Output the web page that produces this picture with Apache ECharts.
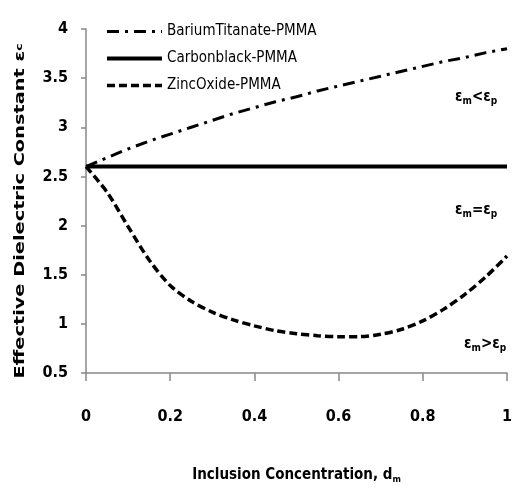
<!DOCTYPE html>
<html><head><meta charset="utf-8">
<script src="https://cdn.jsdelivr.net/npm/echarts@6/dist/echarts.min.js"></script>
<style>html,body{margin:0;padding:0;background:#fff}#c{width:528px;height:489px}</style>
</head><body><div id="c"></div>
<script>
const xValues = [0,0.05,0.1,0.15,0.2,0.25,0.3,0.35,0.4,0.45,0.5,0.55,0.6,0.65,0.7,0.75,0.8,0.85,0.9,0.95,1];
const bariumTitanate = [2.6,2.69,2.78,2.86,2.93,3.0,3.07,3.14,3.2,3.26,3.31,3.37,3.42,3.47,3.52,3.57,3.62,3.67,3.71,3.76,3.8];
const carbonBlack = [2.6,2.6,2.6,2.6,2.6,2.6,2.6,2.6,2.6,2.6,2.6,2.6,2.6,2.6,2.6,2.6,2.6,2.6,2.6,2.6,2.6];
const zincOxide = [2.6,2.34,1.99,1.65,1.39,1.23,1.12,1.04,0.98,0.93,0.9,0.88,0.87,0.87,0.895,0.945,1.03,1.15,1.3,1.48,1.69];
const seriesNames = ['BariumTitanate-PMMA','Carbonblack-PMMA','ZincOxide-PMMA'];

const narrow = "'Liberation Sans Narrow','DejaVu Sans Condensed',sans-serif";
const pair = (xs, ys) => xs.map((x,i)=>[x, ys[i]]);
const chart = echarts.init(document.getElementById('c'));
const epsRich = {
  b:{fontFamily:narrow,fontSize:15,fontWeight:'bold',color:'#000'},
  s:{fontFamily:narrow,fontSize:10,fontWeight:'bold',color:'#000',verticalAlign:'bottom',padding:[8,0,0,0]}
};
const lineStyles = [
  {color:'#000',width:3,type:[12,6,3,6]},
  {color:'#000',width:4,type:'solid'},
  {color:'#000',width:3.5,type:[8,4]}
];
chart.setOption({
  animation:false,
  grid:{left:86,right:21,top:29,bottom:106},
  legend:{
    orient:'vertical', left:100, top:19, itemWidth:55, itemHeight:14, itemGap:12,
    textStyle:{fontFamily:narrow,fontSize:15,color:'#000'},
    itemStyle:{opacity:0,borderWidth:0},
    data:seriesNames.map((n,i)=>({name:n,lineStyle:Object.assign({},lineStyles[i])}))
  },
  xAxis:{
    type:'value', min:0, max:1, interval:0.2,
    axisLine:{lineStyle:{color:'#888',width:1.5}},
    axisTick:{length:8,lineStyle:{color:'#888',width:1.5}},
    splitLine:{show:false},
    axisLabel:{margin:36,fontFamily:narrow,fontSize:16,fontWeight:'bold',color:'#000',formatter:v=>String(Math.round(v*10)/10)},
    name:'{t|Inclusion Concentration, d}{s|m}', nameLocation:'middle', nameGap:94,
    nameTextStyle:{rich:{t:{fontFamily:narrow,fontSize:15,fontWeight:'bold',color:'#000'},s:{fontFamily:narrow,fontSize:9,fontWeight:'bold',color:'#000',padding:[8,0,0,0]}}}
  },
  yAxis:{
    type:'value', min:0.5, max:4, interval:0.5,
    axisLine:{show:true,lineStyle:{color:'#888',width:1.5}},
    axisTick:{show:true,length:5,lineStyle:{color:'#888',width:1.5}},
    splitLine:{show:false},
    axisLabel:{margin:18,fontFamily:narrow,fontSize:16,fontWeight:'bold',color:'#000'}
  },
  graphic:[
    {type:'text',x:20,y:211,rotation:Math.PI/2,scaleX:1.38,scaleY:1.05,
     style:{text:'Effective Dielectric Constant ε{s|c}',x:0,y:0,
       font:"bold 14px 'DejaVu Sans'",fill:'#000',align:'center',verticalAlign:'middle',
       rich:{s:{fontFamily:'DejaVu Sans',fontSize:9,fontWeight:'bold',fill:'#000'}}}},
    {type:'text',x:455,y:88,style:{text:'{b|ε}{s|m}{b|<ε}{s|p}',rich:epsRich}},
    {type:'text',x:455,y:201,style:{text:'{b|ε}{s|m}{b|=ε}{s|p}',rich:epsRich}},
    {type:'text',x:464,y:335,style:{text:'{b|ε}{s|m}{b|>ε}{s|p}',rich:epsRich}}
  ],
  series:[
    {name:seriesNames[0],type:'line',data:pair(xValues,bariumTitanate),showSymbol:false,symbol:'none',
     lineStyle:lineStyles[0],itemStyle:{color:'#000'}},
    {name:seriesNames[1],type:'line',data:pair(xValues,carbonBlack),showSymbol:false,symbol:'none',
     lineStyle:lineStyles[1],itemStyle:{color:'#000'}},
    {name:seriesNames[2],type:'line',data:pair(xValues,zincOxide),showSymbol:false,symbol:'none',smooth:0.3,
     lineStyle:lineStyles[2],itemStyle:{color:'#000'}}
  ]
});
</script></body></html>
